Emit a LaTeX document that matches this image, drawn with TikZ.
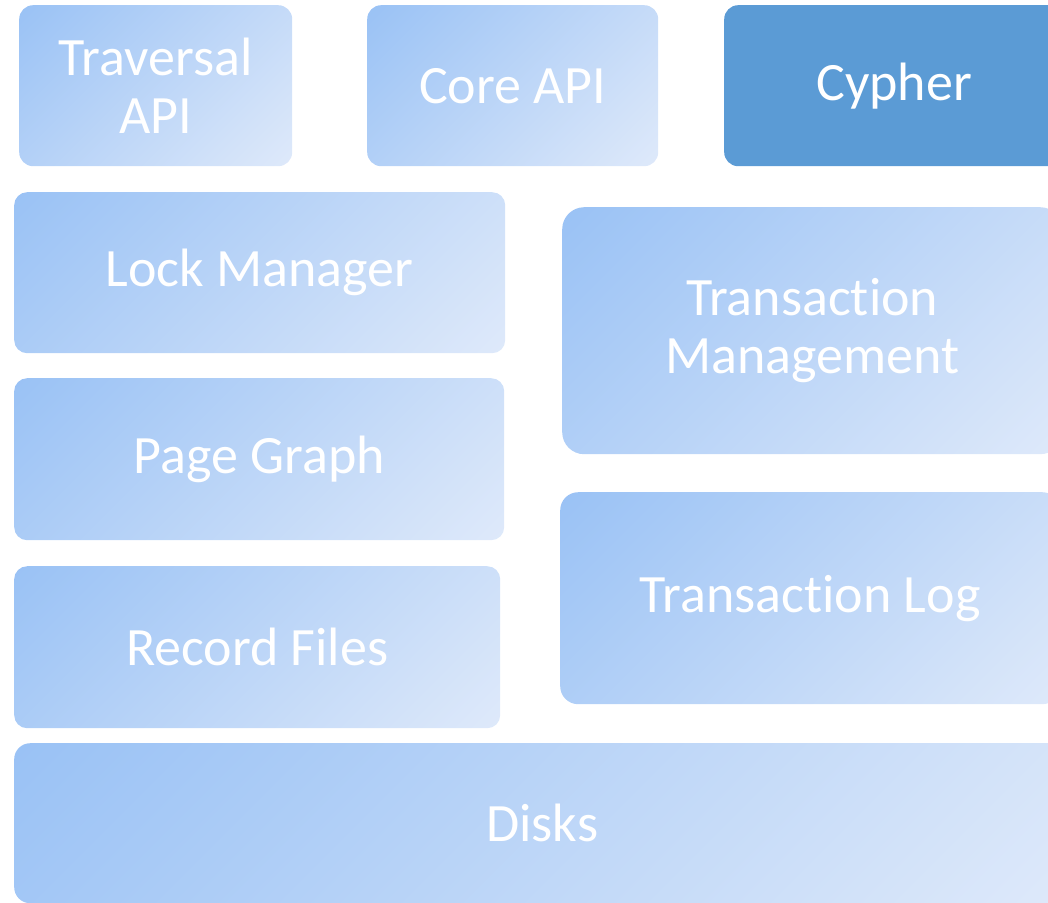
\documentclass[tikz,border=0pt]{standalone}
\usepackage{fontspec}
\setmainfont[RawFeature={-liga;-clig;-calt;-dlig;-rlig;-hlig}]{Carlito}
\definecolor{layerdark}{RGB}{154,194,245}
\definecolor{layerlight}{RGB}{222,233,250}
\definecolor{cypherblue}{RGB}{91,155,213}
% corner to corner gradient, no flat bands
\pgfdeclareverticalshading{layershade}{100bp}{color(0bp)=(layerlight); color(15bp)=(layerlight);
  color(85bp)=(layerdark); color(100bp)=(layerdark)}
\tikzset{
  box/.style={anchor=north west,inner sep=0pt,align=center,text=white,
    font=\fontsize{54}{58}\selectfont},
  layer/.style={box,shading=layershade,shading angle=45},
  solidlayer/.style={box,fill=cypherblue}
}
\begin{document}
\begin{tikzpicture}[x=1pt,y=-1pt]
\useasboundingbox (0,0) rectangle (1048,902);
\clip (0,0) rectangle (1048,902);
% stack of layers, boxes past the right edge are cut off
\foreach \n/\x/\y/\w/\h/\r/\t in
     {Traversal/19/5/273/161/14/{Traversal\\API},Core/367/5/291/161/14/{Core API},
      Lock/14/192/491/161/13/{Lock Manager},TxMgmt/562/207/500/247/22/{Transac\kern0pt tion\\Management},
      Page/14/378/490/162/13/{Page Graph},TxLog/560/492/500/212/18/{Transac\kern0pt tion Log},
      Record/14/566/486/162/13/{Record Files},Disks/14/743/1056/160/16/{Disks}}
   \node[layer,rounded corners=\r pt,minimum width=\w pt,minimum height=\h pt](\n) at (\x,\y) {\t};
\node[solidlayer,rounded corners=14pt,minimum width=340pt,minimum height=161pt](Cypher) at (724,5) {Cypher};

\end{tikzpicture}
\end{document}
